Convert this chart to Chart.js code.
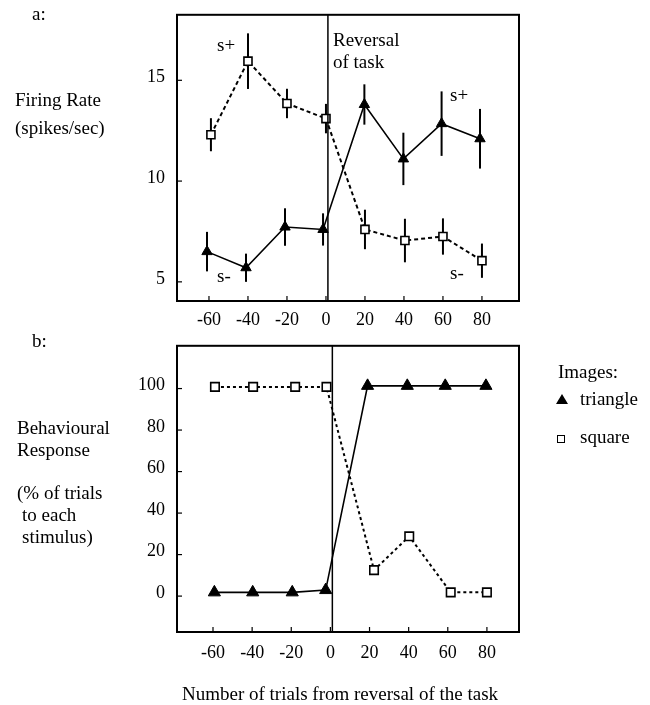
<!DOCTYPE html>
<html><head><meta charset="utf-8">
<script src="https://cdn.jsdelivr.net/npm/chart.js@4/dist/chart.umd.min.js"></script>
<style>
html,body{margin:0;padding:0;background:#fff;}
#wrap{position:relative;width:650px;height:705px;overflow:hidden;font-family:"Liberation Serif",serif;color:#000;}
.t{position:absolute;font-size:19px;line-height:19px;white-space:nowrap;}
canvas{position:absolute;left:0;}
.tri{position:absolute;width:0;height:0;border-left:6px solid transparent;border-right:6px solid transparent;border-bottom:10px solid #000;}
.sq{position:absolute;width:6px;height:6px;border:1.6px solid #000;background:#fff;}
</style></head><body>
<div id="wrap">
<canvas id="ca" width="650" height="343" style="top:-8px;width:650px;height:343px"></canvas>
<canvas id="cb" width="650" height="382" style="top:323px;width:650px;height:382px"></canvas>
<div class="t" style="left:32px;top:4px">a:</div>
<div class="t" style="left:15px;top:90px">Firing Rate</div>
<div class="t" style="left:15px;top:118px">(spikes/sec)</div>
<div class="t" style="left:217px;top:35px">s+</div>
<div class="t" style="left:450px;top:85px">s+</div>
<div class="t" style="left:217px;top:266px">s-</div>
<div class="t" style="left:450px;top:263px">s-</div>
<div class="t" style="left:333px;top:30px">Reversal</div>
<div class="t" style="left:333px;top:52px">of task</div>
<div class="t" style="left:32px;top:331px">b:</div>
<div class="t" style="left:17px;top:418px">Behavioural</div>
<div class="t" style="left:17px;top:440px">Response</div>
<div class="t" style="left:17px;top:483px">(% of trials</div>
<div class="t" style="left:22px;top:505px">to each</div>
<div class="t" style="left:22px;top:527px">stimulus)</div>
<div class="t" style="left:558px;top:362px">Images:</div>
<div class="tri" style="left:556px;top:394px"></div>
<div class="t" style="left:580px;top:389px">triangle</div>
<div class="sq" style="left:557px;top:435px"></div>
<div class="t" style="left:580px;top:427px">square</div>
<div class="t" style="left:182px;top:684px">Number of trials from reversal of the task</div>
</div>
<script>
// ---- data ----
const xTickValues = [-60, -40, -20, 0, 20, 40, 60, 80];
const firingTicks = [5, 10, 15];
const responseTicks = [0, 20, 40, 60, 80, 100];
const reversalAt = 1;

// panel a: firing rate (spikes/sec), mean and error half-length
const firingSquareX   = [-59, -40, -20, 0, 20, 40.5, 60, 80];
const firingSquare    = [12.3, 15.95, 13.85, 13.1, 7.6, 7.05, 7.25, 6.05];
const firingSquareErr = [0.82, 1.38, 0.73, 0.73, 0.98, 1.08, 0.9, 0.85];
const firingTriX      = [-61, -41, -21, -1.5, 19.7, 39.7, 59.3, 79];
const firingTri       = [6.5, 5.7, 7.72, 7.6, 13.8, 11.1, 12.85, 12.1];
const firingTriErr    = [0.98, 0.7, 0.93, 0.8, 1.0, 1.3, 1.6, 1.48];

// panel b: behavioural response (% of trials)
const respSquareX = [-59, -39.5, -18, -2, 22.3, 40.3, 61.5, 80];
const respSquare  = [100.8, 100.8, 100.8, 100.8, 12.5, 28.8, 1.8, 1.8];
const respTriX    = [-59.3, -39.7, -19.5, -2.4, 19, 39.3, 58.7, 79.5];
const respTri     = [1.8, 1.8, 1.8, 2.9, 101.3, 101.3, 101.3, 101.3];

const pts = (xs, ys) => xs.map((x, i) => ({x: x, y: ys[i]}));
const FONT = {family: 'Liberation Serif', size: 18};

const framePlugin = {
  id: 'frame',
  beforeDatasetsDraw(chart) {
    const ctx = chart.ctx, ys = chart.scales.y;
    ctx.save();
    ctx.strokeStyle = '#000'; ctx.lineWidth = 2;
    chart.data.datasets.forEach((ds, i) => {
      if (!ds.errorBars) return;
      const meta = chart.getDatasetMeta(i);
      meta.data.forEach((el, j) => {
        const v = ds.data[j].y, e = ds.errorBars[j];
        ctx.beginPath();
        ctx.moveTo(el.x, ys.getPixelForValue(v + e));
        ctx.lineTo(el.x, ys.getPixelForValue(v - e));
        ctx.stroke();
      });
    });
    ctx.restore();
  },
  afterDraw(chart) {
    const ctx = chart.ctx, a = chart.chartArea, xs = chart.scales.x, ys = chart.scales.y;
    ctx.save();
    ctx.strokeStyle = '#000';
    ctx.lineWidth = 2;
    ctx.strokeRect(a.left, a.top, a.right - a.left, a.bottom - a.top);
    ctx.lineWidth = 1.5;
    const rx = xs.getPixelForValue(reversalAt);
    ctx.beginPath(); ctx.moveTo(rx, a.top); ctx.lineTo(rx, a.bottom); ctx.stroke();
    ctx.lineWidth = 1.2;
    xs.ticks.forEach(t => {
      const px = xs.getPixelForValue(t.value);
      ctx.beginPath(); ctx.moveTo(px, a.bottom); ctx.lineTo(px, a.bottom - 5); ctx.stroke();
    });
    ys.ticks.forEach(t => {
      const py = ys.getPixelForValue(t.value);
      ctx.beginPath(); ctx.moveTo(a.left, py); ctx.lineTo(a.left + 5, py); ctx.stroke();
    });
    ctx.restore();
  }
};

function makeChart(id, cfg) {
  return new Chart(document.getElementById(id), {
    type: 'scatter',
    data: {datasets: cfg.datasets},
    options: {
      responsive: false, animation: false, devicePixelRatio: 1,
      layout: {padding: cfg.padding},
      plugins: {legend: {display: false}, tooltip: {enabled: false}},
      scales: {
        x: {
          type: 'linear', min: cfg.xmin, max: cfg.xmax,
          afterBuildTicks: s => { s.ticks = xTickValues.map(v => ({value: v})); },
          afterFit: s => { s.height = 30; },
          grid: {display: false, drawTicks: false}, border: {display: false},
          ticks: {color: '#000', font: FONT, padding: cfg.xpad, autoSkip: false, maxRotation: 0,
                  callback: v => String(v)}
        },
        y: {
          type: 'linear', min: cfg.ymin, max: cfg.ymax,
          afterBuildTicks: s => { s.ticks = cfg.yticks.map(v => ({value: v})); },
          afterFit: s => { s.width = 57; },
          grid: {display: false, drawTicks: false}, border: {display: false},
          ticks: {color: '#000', font: FONT, padding: 12, labelOffset: -3, autoSkip: false,
                  callback: v => String(v)}
        }
      }
    },
    plugins: [framePlugin]
  });
}

makeChart('ca', {
  padding: {left: 120, right: 131, top: 22, bottom: 4},
  xmin: -76.4, xmax: 99, ymin: 4.05, ymax: 18.25, yticks: firingTicks, xpad: 8,
  datasets: [
    {data: pts(firingSquareX, firingSquare), errorBars: firingSquareErr, showLine: true,
     borderColor: '#000', borderWidth: 2, borderDash: [4, 3], pointStyle: 'rect',
     pointRadius: 5.7, pointBackgroundColor: '#fff', pointBorderColor: '#000', pointBorderWidth: 1.6},
    {data: pts(firingTriX, firingTri), errorBars: firingTriErr, showLine: true,
     borderColor: '#000', borderWidth: 1.6, pointStyle: 'triangle',
     pointRadius: 6, pointBackgroundColor: '#000', pointBorderColor: '#000', pointBorderWidth: 1}
  ]
});

makeChart('cb', {
  padding: {left: 120, right: 131, top: 22, bottom: 43},
  xmin: -78.4, xmax: 96.4, ymin: -17.3, ymax: 120.6, yticks: responseTicks, xpad: 10,
  datasets: [
    {data: pts(respSquareX, respSquare), showLine: true,
     borderColor: '#000', borderWidth: 2, borderDash: [3, 3], pointStyle: 'rect',
     pointRadius: 6, pointBackgroundColor: '#fff', pointBorderColor: '#000', pointBorderWidth: 1.6},
    {data: pts(respTriX, respTri), showLine: true,
     borderColor: '#000', borderWidth: 1.6, pointStyle: 'triangle',
     pointRadius: 7, pointBackgroundColor: '#000', pointBorderColor: '#000', pointBorderWidth: 1}
  ]
});
</script>
</body></html>
